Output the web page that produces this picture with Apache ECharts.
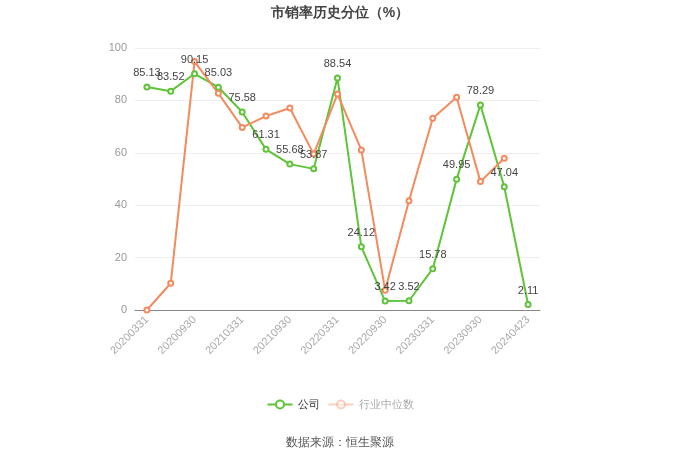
<!DOCTYPE html>
<html><head><meta charset="utf-8">
<script src="https://cdn.jsdelivr.net/npm/echarts@6/dist/echarts.min.js"></script>
<style>html,body{margin:0;padding:0;background:#fff}#c{width:680px;height:460px}</style>
</head><body><div id="c"></div>
<script>
var categories = ['20200331','20200630','20200930','20201231','20210331','20210630','20210930','20211231','20220331','20220630','20220930','20221231','20230331','20230630','20230930','20231231','20240423'];
var companyValues = [85.13,83.52,90.15,85.03,75.58,61.31,55.68,53.87,88.54,24.12,3.42,3.52,15.78,49.95,78.29,47.04,2.11];
var industryValues = [0,10.2,94.8,82.7,69.7,74.0,77.1,59.5,82.4,61.1,7.5,41.7,73.2,81.2,49.0,57.9,null];
var yTicks = [0,20,40,60,80,100];

var green = '#5fc43a', orange = '#f48a5e';
var chart = echarts.init(document.getElementById('c'));
chart.setOption({
  animation:false,
  title:{text:'市销率历史分位（%）',left:'center',top:1,textStyle:{fontSize:14,fontWeight:'bold',color:'#444'}},
  grid:{left:135,right:140,top:48,bottom:150},
  legend:{bottom:45,left:'center',itemWidth:25,itemHeight:10,textStyle:{fontSize:11,color:'#333'},
    data:[{name:'公司'},{name:'行业中位数',itemStyle:{opacity:0.4},lineStyle:{opacity:0.4},textStyle:{color:'#aaa'}}]},
  graphic:[{type:'text',left:'center',top:437,style:{text:'数据来源：恒生聚源',fontSize:12,fill:'#555'}}],
  xAxis:{type:'category',data:categories,boundaryGap:true,
    axisLine:{lineStyle:{color:'#888'}},
    axisTick:{alignWithLabel:true,interval:1,lineStyle:{color:'#888'}},
    axisLabel:{interval:1,rotate:45,color:'#aaa',fontSize:11}},
  yAxis:{type:'value',min:yTicks[0],max:yTicks[yTicks.length-1],interval:20,
    axisLine:{show:false},axisTick:{show:false},
    axisLabel:{color:'#999',fontSize:11},
    splitLine:{lineStyle:{color:'#eee'}}},
  series:[
    {name:'公司',type:'line',data:companyValues,symbol:'emptyCircle',symbolSize:5,
      lineStyle:{color:green,width:2},itemStyle:{color:green},
      label:{show:true,position:'top',color:'#444',fontSize:11}},
    {name:'行业中位数',type:'line',data:industryValues,symbol:'emptyCircle',symbolSize:5,
      lineStyle:{color:orange,width:2},itemStyle:{color:orange}}
  ]
});
</script></body></html>
